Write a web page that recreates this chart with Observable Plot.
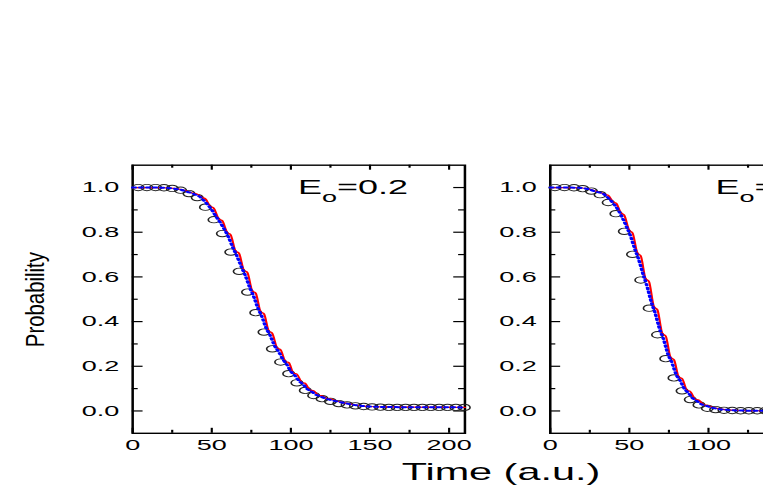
<!DOCTYPE html>
<html><head><meta charset="utf-8">
<script src="https://cdn.jsdelivr.net/npm/d3@7"></script>
<script src="https://cdn.jsdelivr.net/npm/@observablehq/plot@0.6"></script>
<style>
html,body{margin:0;padding:0;background:#fff;overflow:hidden;}
#wrap{position:relative;width:763px;height:491px;overflow:hidden;background:#fff;}
#stage{position:absolute;left:0;top:0;width:424px;height:491px;transform:scaleX(1.8);transform-origin:0 0;}
#stage svg{position:absolute;top:0;max-width:none;}
</style></head><body><div id="wrap"><div id="stage"></div></div>
<script>
// ---- text ----
const yLabel = "Probability";
const xLabel = "Time (a.u.)";
const panelLabels = ["Eo=0.2", "Eo=0.5"];
// ---- ticks ----
const xMajor = [0, 50, 100, 150, 200];
const xMinor = [25, 75, 125, 175];
const yMajor = [0, 0.2, 0.4, 0.6, 0.8, 1.0];
const yMinor = [0.1, 0.3, 0.5, 0.7, 0.9];

// ---- panel 1 (E0 = 0.2) ----
const circT1 = [3.5, 9, 14.5, 19.8, 25, 30.3, 35.6, 40.8, 46, 51.4, 56.7, 62, 67.3, 72.6, 77.8, 83, 88.3, 93.5, 98.6, 103.8, 109.1, 114.4, 119.7, 125, 130.3, 135.5, 140.8, 146, 151.3, 156.6, 161.9, 167.2, 172.5, 177.8, 183.1, 188.4, 193.7, 199, 204.3, 209.6];
const circP1 = [1.000, 1.000, 1.000, 0.999, 0.996, 0.988, 0.973, 0.955, 0.912, 0.856, 0.794, 0.711, 0.625, 0.532, 0.440, 0.353, 0.278, 0.219, 0.167, 0.126, 0.092, 0.069, 0.055, 0.043, 0.033, 0.027, 0.023, 0.020, 0.018, 0.017, 0.016, 0.016, 0.016, 0.016, 0.016, 0.016, 0.016, 0.016, 0.016, 0.016];
const redT1 = [0, 12, 20, 26, 31, 35, 38.6, 40.8, 43.8, 46, 49, 51.2, 54.4, 56.6, 59.7, 61.9, 65, 67.2, 70.3, 72.5, 75.6, 77.8, 80.8, 83, 86, 88.2, 91.3, 93.5, 96.5, 98.7, 101.6, 103.8, 106.8, 109, 112.1, 114.3, 117.4, 119.6, 122.7, 124.9, 130, 135, 140, 145, 150, 160, 175, 210];
const redP1 = [1.0, 1.0, 0.999, 0.996, 0.991, 0.982, 0.974, 0.970, 0.956, 0.949, 0.916, 0.908, 0.860, 0.852, 0.799, 0.789, 0.716, 0.706, 0.630, 0.620, 0.537, 0.527, 0.445, 0.435, 0.358, 0.348, 0.282, 0.274, 0.222, 0.216, 0.169, 0.165, 0.128, 0.124, 0.094, 0.091, 0.070, 0.068, 0.056, 0.054, 0.042, 0.034, 0.028, 0.023, 0.020, 0.018, 0.017, 0.016];
const blueT1 = [0, 12, 20, 26, 31, 35, 37.4, 39.2, 42.6, 44.4, 47.8, 49.6, 53.2, 55, 58.5, 60.3, 63.8, 65.6, 69.1, 70.9, 74.4, 76.2, 79.6, 81.4, 84.8, 86.6, 90.1, 91.9, 95.3, 97.1, 100.4, 102.2, 105.6, 107.4, 110.9, 112.7, 116.2, 118, 121.5, 123.3, 129, 134, 139, 144, 149, 157, 170, 210];
const blueP1 = [1.0, 1.0, 0.999, 0.995, 0.989, 0.980, 0.975, 0.969, 0.958, 0.946, 0.920, 0.904, 0.865, 0.847, 0.806, 0.782, 0.724, 0.698, 0.639, 0.611, 0.546, 0.518, 0.453, 0.427, 0.364, 0.342, 0.287, 0.269, 0.227, 0.211, 0.173, 0.161, 0.131, 0.121, 0.095, 0.089, 0.071, 0.067, 0.057, 0.053, 0.043, 0.035, 0.028, 0.023, 0.020, 0.018, 0.017, 0.016];

// ---- panel 2 ----
const circT2 = [3, 9, 15, 20.5, 26, 31.5, 36.6, 41.5, 46.8, 52, 57.2, 62.5, 67.8, 73, 78.2, 83.3, 88.5, 94, 99.3, 104.5, 109.8, 115, 120.3, 125.5, 130.8, 136, 141.3, 146.6, 151.9, 157.2, 162.5, 167.8, 173.1, 178.4, 183.7, 189, 194.3, 199.6, 204.9];
const circP2 = [1.000, 1.000, 0.999, 0.995, 0.984, 0.968, 0.933, 0.883, 0.804, 0.701, 0.586, 0.460, 0.341, 0.234, 0.148, 0.090, 0.051, 0.027, 0.012, 0.006, 0.003, 0.002, 0.001, 0.001, 0.001, 0.001, 0.001, 0.001, 0.001, 0.001, 0.001, 0.001, 0.001, 0.001, 0.001, 0.001, 0.001, 0.001, 0.001];
const redT2 = [0, 10, 18, 24, 29, 34.5, 36.7, 39.6, 41.8, 44.5, 46.7, 49.8, 52, 55, 57.2, 60.2, 62.4, 65.5, 67.7, 70.8, 73, 76, 78.2, 81.2, 83.4, 86.3, 88.5, 91.5, 93.7, 97, 99.2, 103, 108, 114, 120, 130, 150, 210];
const redP2 = [1.0, 1.0, 0.999, 0.994, 0.983, 0.970, 0.965, 0.937, 0.929, 0.888, 0.877, 0.810, 0.797, 0.708, 0.694, 0.593, 0.579, 0.467, 0.453, 0.348, 0.335, 0.240, 0.229, 0.152, 0.144, 0.093, 0.087, 0.053, 0.049, 0.028, 0.025, 0.015, 0.008, 0.004, 0.002, 0.001, 0.0005, 0.0];
const blueT2 = [0, 10, 18, 24, 29, 33.3, 35.1, 38.4, 40.2, 43.3, 45.1, 48.6, 50.4, 53.8, 55.6, 59, 60.8, 64.3, 66.1, 69.6, 71.4, 74.8, 76.6, 80, 81.8, 85.1, 86.9, 90.3, 92.1, 95.8, 97.6, 102, 107, 113, 120, 130, 150, 210];
const blueP2 = [1.0, 1.0, 0.999, 0.993, 0.981, 0.973, 0.963, 0.941, 0.926, 0.895, 0.871, 0.819, 0.789, 0.718, 0.684, 0.605, 0.567, 0.478, 0.442, 0.357, 0.325, 0.247, 0.221, 0.157, 0.139, 0.096, 0.084, 0.055, 0.047, 0.029, 0.025, 0.015, 0.008, 0.004, 0.002, 0.001, 0.0005, 0.0];

const rows = (ts, ps) => ts.map((t, i) => ({t, p: ps[i]}));

// layout (in unstretched units; the stage is stretched 1.8x horizontally)
const ML = 73.2, IW = 184.6, MT = 164.7, MB = 58.2, H = 491, W = 340;
const IH = H - MT - MB;
const FONT = "'Liberation Sans', Arial, Helvetica, sans-serif";

function panel(label, circ, red, blue, first) {
  const marks = [
    Plot.frame({stroke: "black", strokeWidth: 1.4}),
    Plot.tickX(xMajor, {x: d => d, insetTop: IH - 5, strokeWidth: 1.2}),
    Plot.tickX(xMajor, {x: d => d, insetBottom: IH - 5, strokeWidth: 1.2}),
    Plot.tickX(xMinor, {x: d => d, insetTop: IH - 3, strokeWidth: 1.2}),
    Plot.tickX(xMinor, {x: d => d, insetBottom: IH - 3, strokeWidth: 1.2}),
    Plot.tickY(yMajor, {y: d => d, insetRight: IW - 6, strokeWidth: 1.2}),
    Plot.tickY(yMajor, {y: d => d, insetLeft: IW - 6, strokeWidth: 1.2}),
    Plot.tickY(yMinor, {y: d => d, insetRight: IW - 3.3, strokeWidth: 1.2}),
    Plot.tickY(yMinor, {y: d => d, insetLeft: IW - 3.3, strokeWidth: 1.2}),
    Plot.axisX({ticks: xMajor, tickSize: 0, tickPadding: 6.5, fontSize: 15, label: null}),
    Plot.axisY({ticks: yMajor, tickSize: 0, tickPadding: 7.5, tickFormat: d3.format(".1f"), fontSize: 15, label: null}),
    Plot.dot(circ, {x: "t", y: "p", r: 3.2, stroke: "#222", strokeWidth: 0.9, fill: "none"}),
    Plot.line(red, {x: "t", y: "p", stroke: "#ff0000", strokeWidth: 1.2, curve: "monotone-x"}),
    Plot.line(blue, {x: "t", y: "p", stroke: "#0000ff", strokeWidth: 2.0, strokeDasharray: "1.5,2.4", curve: "monotone-x"}),
    Plot.text([label], {frameAnchor: "top-left", dx: 91.8, dy: 14.6, textAnchor: "start", lineAnchor: "top", fontSize: 20, fill: "black"})
  ];
  if (first) {
    marks.push(Plot.text([yLabel], {frameAnchor: "left", rotate: -90, textAnchor: "start", dx: -59.3, dy: 47.9, lineAnchor: "top", fontSize: 14, fill: "black"}));
    marks.push(Plot.text([xLabel], {frameAnchor: "bottom", dx: 112.3, dy: 30.5, lineAnchor: "top", fontSize: 23, fill: "black"}));
  }
  return Plot.plot({
    width: W, height: H,
    marginLeft: ML, marginRight: W - ML - IW, marginTop: MT, marginBottom: MB,
    x: {domain: [0, 210]},
    y: {domain: [-0.1, 1.1]},
    style: {background: "transparent", fontFamily: FONT, fontSize: "14px", overflow: "visible", color: "black"},
    marks
  });
}

const stage = document.getElementById("stage");
const p1 = panel(panelLabels[0], rows(circT1, circP1), rows(redT1, redP1), rows(blueT1, blueP1), true);
const p2 = panel(panelLabels[1], rows(circT2, circP2), rows(redT2, redP2), rows(blueT2, blueP2), false);
p1.style.left = "0px";
p2.style.left = (305 - ML) + "px";
stage.appendChild(p1);
stage.appendChild(p2);

const NS = "http://www.w3.org/2000/svg";
for (const svg of [p1, p2]) {
  svg.querySelectorAll("text").forEach(el => {
    const s = el.textContent;
    if (s === yLabel) {
      el.setAttribute("textLength", "95");
      el.setAttribute("lengthAdjust", "spacingAndGlyphs");
    } else if (s.startsWith("Eo=")) {
      el.textContent = "";
      const a = document.createElementNS(NS, "tspan"); a.textContent = "E";
      const b = document.createElementNS(NS, "tspan"); b.textContent = "o";
      b.setAttribute("dy", "8.4"); b.setAttribute("font-size", "15");
      const c = document.createElementNS(NS, "tspan"); c.textContent = s.slice(2);
      c.setAttribute("dy", "-8.4");
      el.append(a, b, c);
    }
  });
}
</script></body></html>
